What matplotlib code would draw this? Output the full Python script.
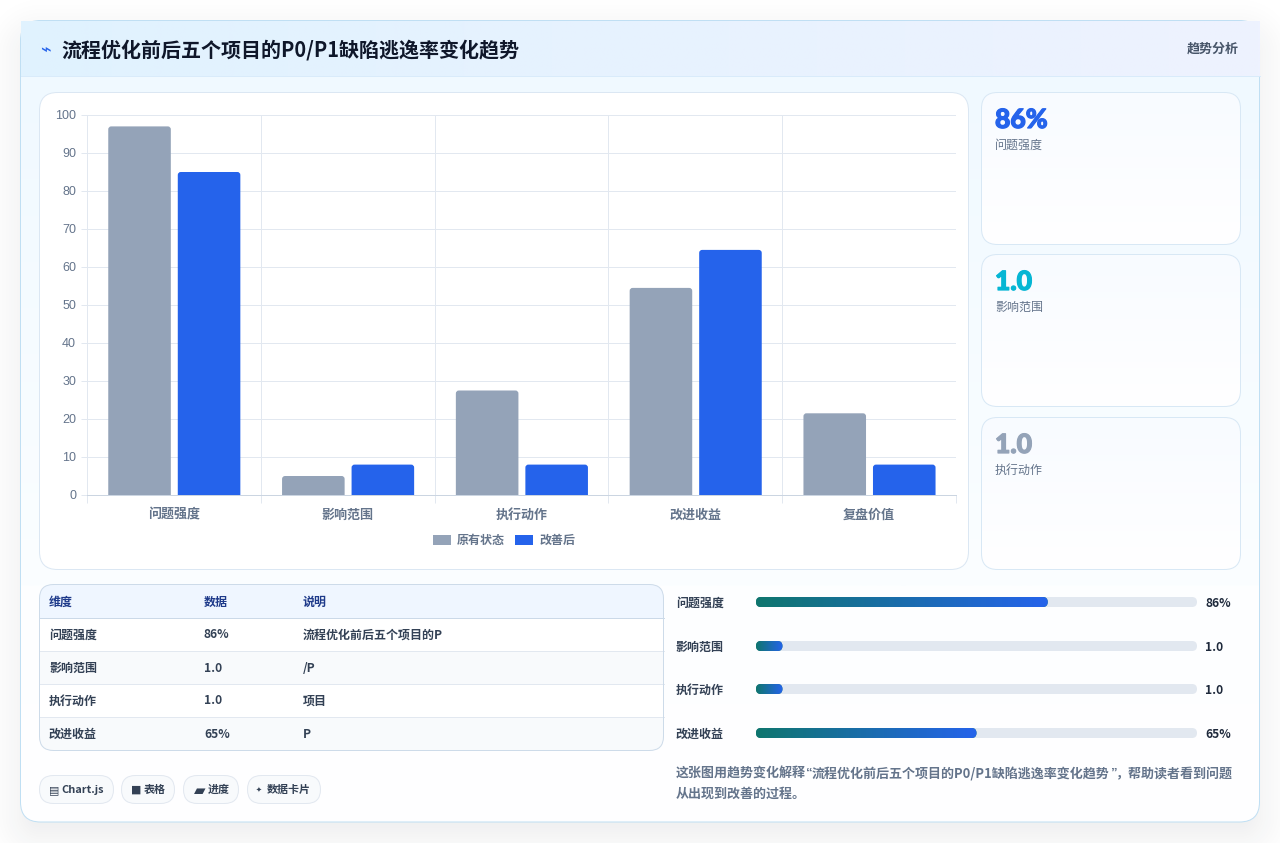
import numpy as np
import matplotlib
matplotlib.use("Agg")
import matplotlib.pyplot as plt
import matplotlib.patheffects as pe
from matplotlib.colors import to_rgb
from matplotlib.patches import FancyBboxPatch, Rectangle, Patch
from matplotlib.transforms import ScaledTranslation

CJK = ["Noto Sans CJK SC", "DejaVu Sans"]
plt.rcParams["font.family"] = CJK

# Dataset
categories = ["问题强度", "影响范围", "执行动作", "改进收益", "复盘价值"]
before_values = [97, 5, 27.5, 54.5, 21.5]
after_values = [85, 8, 8, 64.5, 8]
series_names = ["原有状态", "改善后"]
y_ticks = list(range(0, 101, 10))

stat_values = ["86%", "1.0", "1.0"]
stat_labels = ["问题强度", "影响范围", "执行动作"]
stat_colors = ["#2563eb", "#06b6d4", "#94a3b8"]

table_header = ["维度", "数据", "说明"]
table_dims = ["问题强度", "影响范围", "执行动作", "改进收益"]
table_data = ["86%", "1.0", "1.0", "65%"]
table_notes = ["流程优化前后五个项目的P", "/P", "项目", "P"]

progress_labels = ["问题强度", "影响范围", "执行动作", "改进收益"]
progress_values = [86, 1.0, 1.0, 65]
progress_texts = ["86%", "1.0", "1.0", "65%"]
PROGRESS_MAX = 130
PROGRESS_MIN_FRACTION = 0.06

pill_icons = ["\u25a4", "\u25a0", "\u25b0", "\u2726"]
pill_texts = ["Chart.js", "表格", "进度", "数据卡片"]
title = "流程优化前后五个项目的P0/P1缺陷逃逸率变化趋势"
badge = "趋势分析"
caption_parts = ["这张图用趋势变化解释", "“", "流程优化前后五个项目的P0/P1缺陷逃逸率变化趋势", "”", "，帮助读者看到问题"]
caption_tail = "从出现到改善的过程。"

W, H = 1280, 843
PX = 0.72  # font points per pixel at 100 dpi
HAIR = 0.72  # one device pixel, in points
fig = plt.figure(figsize=(W / 100, H / 100), dpi=100, facecolor="white")
ui = fig.add_axes([0, 0, 1, 1], zorder=0)
ui.set_xlim(0, W)
ui.set_ylim(H, 0)
ui.axis("off")


def rbox(x, y, w, h, r, fc="none", ec="none", lw=HAIR, z=2):
    p = FancyBboxPatch((x, y), w, h, boxstyle=f"round,pad=0,rounding_size={r}",
                       fc=fc, ec=ec, lw=lw, zorder=z)
    ui.add_patch(p)
    return p


def gradient(x, y, w, h, c0, c1, angle="v", clip=None, z=1.5):
    t = np.linspace(0, 1, 256)
    a, b = np.array(to_rgb(c0)), np.array(to_rgb(c1))
    ramp = a[None, :] * (1 - t[:, None]) + b[None, :] * t[:, None]
    img = ramp[:, None, :] if angle == "v" else ramp[None, :, :]
    im = ui.imshow(img, extent=(x, x + w, y + h, y), aspect="auto", zorder=z,
                   interpolation="bilinear")
    if clip is not None:
        im.set_clip_path(clip)
    ui.set_xlim(0, W)
    ui.set_ylim(H, 0)
    return im


def label(x, y, s, size, color, weight="normal", ha="left", family=None, z=6):
    return ui.text(x, y, s, fontsize=size * PX, color=color, fontweight=weight, ha=ha,
                   va="center", family=family or CJK, zorder=z)


# Soft drop shadow behind the main card
gx, gy = np.meshgrid(np.arange(W) + 0.5, np.arange(H) + 0.5)
cx, cy, hw, hh, rad = 640, 421 + 14, 620, 401, 20
qx, qy = np.abs(gx - cx) - (hw - rad), np.abs(gy - cy) - (hh - rad)
dist = np.hypot(np.maximum(qx, 0), np.maximum(qy, 0)) + np.minimum(np.maximum(qx, qy), 0) - rad
alpha = 0.085 * np.clip(1 - (dist + 22) / 66, 0, 1) ** 1.6
shadow = np.dstack([np.full_like(alpha, 0.12), np.full_like(alpha, 0.13),
                    np.full_like(alpha, 0.16), alpha])
ui.imshow(shadow, extent=(0, W, H, 0), aspect="auto", zorder=0.5)
ui.set_xlim(0, W)
ui.set_ylim(H, 0)

# Main card with a pale blue wash fading to white
card = rbox(20.5, 20.5, 1239, 801.5, 20, fc="#ffffff", z=1)
gradient(20, 76, 1240, 510, "#f0f9ff", "#fbfeff", clip=card)
gradient(20, 586, 1240, 237, "#fdfeff", "#ffffff", clip=card)
rbox(20.5, 20.5, 1239, 801.5, 20, ec="#c0dff3", z=2)

# Header strip
gradient(20.5, 21, 1239, 55, "#e0f2fe", "#eef2ff", angle="h", z=2.4)
ui.plot([20.5, 1259.5], [76, 76], color="#d9ebfa", lw=HAIR, zorder=2.6)
label(40, 51, "\u2301", 18, "#2563eb", family=["DejaVu Sans"])
label(61.5, 49.5, title, 20, "#0f172a", weight="bold")
label(1238.5, 48.5, badge, 13, "#475569", weight="bold", ha="right")

# Chart panel
rbox(39.5, 92.5, 929, 477, 18, fc="#ffffff", ec="#dbe7f3", z=3)

# Stat cards
for i, top in enumerate([92.5, 254.5, 417.5]):
    c = rbox(981.5, top, 259, 152, 16, fc="#ffffff", z=3)
    gradient(981.5, top, 259, 152, "#f8fbff", "#ffffff", clip=c, z=3.1)
    rbox(981.5, top, 259, 152, 16, ec="#d8e8f5", z=3.2)
    big = label(995, top + 27.5, stat_values[i], 26.5, stat_colors[i], weight=900,
                family=["Lato", "DejaVu Sans"])
    big.set_path_effects([pe.withStroke(linewidth=0.9, foreground=stat_colors[i])])
    label(995, top + 53, stat_labels[i], 12, "#64748b")

# Table
tb = rbox(39.5, 584.5, 624, 166, 14, fc="#ffffff", z=3)
hdr = Rectangle((39.5, 584.5), 624, 33, fc="#eff6ff", ec="none", zorder=3.1)
ui.add_patch(hdr)
hdr.set_clip_path(tb)
ui.plot([39.5, 663.5], [617.5, 617.5], color="#cbd9e8", lw=HAIR, zorder=3.3)
cols = [49, 204, 303]
for x, s in zip(cols, table_header):
    label(x, 602.5, s, 12, "#1e3a8a", weight="bold")
for i in range(4):
    top = 618 + i * 33
    if i % 2 == 1 or i == 3:
        r = Rectangle((39.5, top), 624, 33, fc="#f8fafc", ec="none", zorder=3.1)
        ui.add_patch(r)
        r.set_clip_path(tb)
    if i < 3:
        ui.plot([39.5, 663.5], [top + 32.5] * 2, color="#e2e8f0", lw=HAIR, zorder=3.3)
    yc = top + 17
    label(cols[0], yc, table_dims[i], 12, "#334155", weight="bold")
    label(cols[1], yc, table_data[i], 12, "#334155", weight="bold")
    label(cols[2], yc, table_notes[i], 12, "#334155", weight="bold")
rbox(39.5, 584.5, 624, 166, 14, ec="#cddbe9", z=3.4)

# Pills
pill_boxes = [(39.5, 74), (121.5, 53), (183.5, 55), (247.5, 73)]
pill_text_dx = [22, 22, 24.5, 19.5]
pill_icon_size = [11, 11, 15, 7]
pill_icon_dx = [9, 9, 10, 8.5]
for (x, w), icon, s, dx, isz, idx in zip(pill_boxes, pill_icons, pill_texts, pill_text_dx,
                                         pill_icon_size, pill_icon_dx):
    rbox(x, 775.5, w, 28, 14, fc="#f8fafc", ec="#e2e8f0", z=3)
    label(x + idx, 790, icon, isz, "#334155", family=["DejaVu Sans"])
    label(x + dx, 790, s, 11, "#334155", weight="bold")

# Progress bars: the fill is value / PROGRESS_MAX, with a minimum visible stub
track_x, track_w = 756.0, 441.0
for i, yc in enumerate([602, 646, 689, 733]):
    label(676, yc + 1.5, progress_labels[i], 12, "#334155", weight="bold")
    rbox(track_x, yc - 5, track_w, 10, 5, fc="#e2e8f0", z=3)
    frac = max(progress_values[i] / PROGRESS_MAX, PROGRESS_MIN_FRACTION)
    fw = track_w * frac
    fill = rbox(track_x, yc - 5, fw, 10, 5, fc="#0f766e", z=3.1)
    gradient(track_x, yc - 5, fw, 10, "#0f766e", "#2563eb", angle="h", clip=fill, z=3.2)
    label(1205, yc + 1.5, progress_texts[i], 12, "#1e293b", weight="bold")

# Caption: the curly quotes are set half-width, so the line is laid out piece by piece
fig.canvas.draw()
rend = fig.canvas.get_renderer()
cursor = 676.0
for part in caption_parts:
    is_quote = part in ("“", "”")
    t = label(cursor, 774, part, 13, "#64748b", weight="bold",
              family=["Liberation Sans"] if is_quote else CJK)
    cursor += 6.0 if is_quote else t.get_window_extent(rend).width
label(676, 794, caption_tail, 13, "#64748b", weight="bold")

# Grouped bar chart
ax = fig.add_axes([87 / W, 1 - 495 / H, 869 / W, 380 / H], zorder=2)
ax.patch.set_alpha(0)
ax.set_xlim(0, 5)
ax.set_ylim(0, 100)
for s in ax.spines.values():
    s.set_visible(False)
GRID = "#e2e8f0"
ax.set_axisbelow(True)
ax.set_yticks(y_ticks)
ax.set_xticks(np.arange(6))
ax.set_xticklabels([])
ax.grid(True, color=GRID, lw=HAIR)
ax.tick_params(axis="y", length=6 * PX, width=HAIR, color=GRID, labelsize=12.5 * PX,
               labelcolor="#64748b", pad=6 * PX)
ax.tick_params(axis="x", length=8 * PX, width=HAIR, color=GRID)
nudge = ScaledTranslation(1 / 100, 0.4 / 100, fig.dpi_scale_trans)
for t in ax.get_yticklabels():
    t.set_family(["Liberation Sans"])
    t.set_transform(t.get_transform() + nudge)
ax.spines["bottom"].set_visible(True)
ax.spines["bottom"].set_color("#cbd5e1")
ax.spines["bottom"].set_linewidth(HAIR)
ax.spines["left"].set_visible(True)
ax.spines["left"].set_color(GRID)
ax.spines["left"].set_linewidth(HAIR)

BAR_W, OFFSET = 0.36, 0.2
px_x = 5 / 869.0
px_y = 100 / 380.0
xpos = np.arange(len(categories)) + 0.5


def rounded_bar(x, v, color):
    r = 3.0 * px_x
    # the box runs past the baseline so only the top corners show as rounded
    patch = FancyBboxPatch((x - BAR_W / 2 + 0.4 * px_x, -2), BAR_W, v + 2,
                           boxstyle=f"round,pad=0,rounding_size={r}",
                           mutation_aspect=px_y / px_x, fc=color, ec="none", zorder=3)
    ax.add_patch(patch)


COL_A, COL_B = "#94a3b8", "#2563eb"
for xp, a, b in zip(xpos, before_values, after_values):
    rounded_bar(xp - OFFSET, a, COL_A)
    rounded_bar(xp + OFFSET, b, COL_B)

for xp, c in zip(xpos, categories):
    ax.annotate(c, (xp, 0), xytext=(0, -19.4 * PX), textcoords="offset points", ha="center",
                va="center", fontsize=13 * PX, color="#64748b", fontweight="bold",
                annotation_clip=False, family=CJK)

ax.legend(handles=[Patch(fc=COL_A, label=series_names[0]), Patch(fc=COL_B, label=series_names[1])],
          loc="center", bbox_to_anchor=((504 - 87) / 869, (495 - 540.5) / 380), ncol=2, frameon=False,
          prop={"family": CJK, "size": 12 * PX, "weight": "bold"}, labelcolor="#64748b",
          handlelength=1.5, handleheight=1.0, handletextpad=0.5, columnspacing=0.85,
          borderpad=0, borderaxespad=0)

fig.savefig("out.png", dpi=100, facecolor="white")
